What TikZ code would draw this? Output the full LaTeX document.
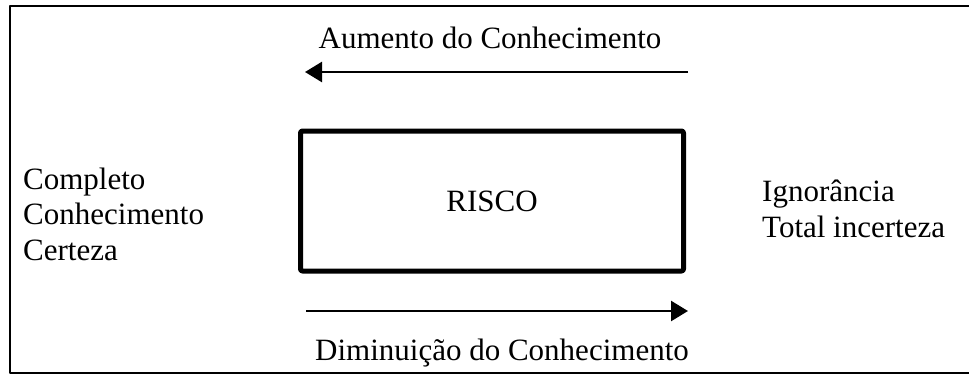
\documentclass[tikz,border=0pt]{standalone}
\usepackage{fontspec}
\setmainfont{Liberation Serif}
\usetikzlibrary{arrows.meta}
\begin{document}
\begin{tikzpicture}[x=1pt, y=-1pt, line join=round, >={Triangle[length=17pt,width=20pt]}]
			\tikzset{every node/.style={font=\fontsize{31}{35.5}\selectfont, inner sep=0pt},
				riscobox/.style={draw, line width=5pt, rounded corners=2pt, minimum width=383pt, minimum height=140pt},
				seta/.style={->, line width=2.5pt}}
			\def\xmax{969}\def\ymax{376}
			\useasboundingbox (0,0) rectangle (\xmax,\ymax);
			\draw[line width=2.5pt] (\xmax+3,6)--(10,6)--(10,373)--(\xmax+3,373);
			\node[riscobox] (risco) at (492,201) {RISCO};
			\node[anchor=base] (aumento) at (490,48) {Aumento do Conhecimento};
			\coordinate (a0) at (688,72); \coordinate (a1) at (305,72);
			\draw[seta] (a0)--(a1);
			\coordinate (d0) at (306,311); \coordinate (d1) at (688,311);
			\draw[seta] (d0)--(d1);
			\node[anchor=base] (diminuicao) at (502,360) {Diminuição do Conhecimento};
			\node[anchor=base west, align=left] (certeza) at (23,260) {Completo\\Conhecimento\\Certeza};
			\node[anchor=base west, align=left] (incerteza) at (762,237) {Ignorância\\Total incerteza};
	\end{tikzpicture}
\end{document}
